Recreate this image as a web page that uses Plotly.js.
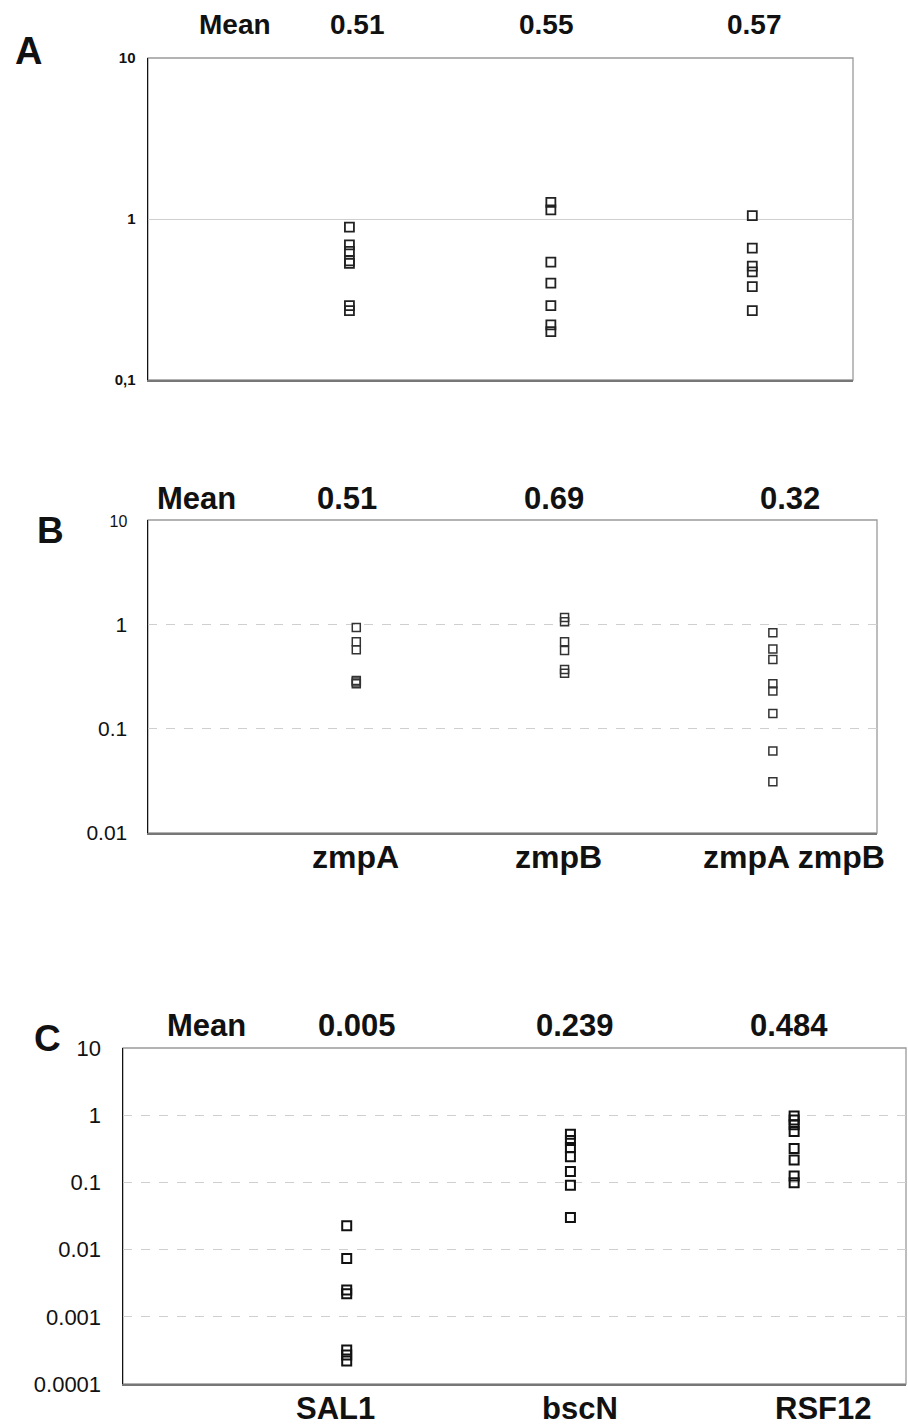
<!DOCTYPE html>
<html>
<head>
<meta charset="utf-8">
<script src="https://cdn.plot.ly/plotly-3.0.1.min.js"></script>
<style>html,body{margin:0;padding:0;background:#fff;}#chart{width:908px;height:1426px;}</style>
</head>
<body>
<div id="chart"></div>
<script>
// ---- data ----
const catsA = ['A1', 'A2', 'A3'];
const catsB = ['zmpA', 'zmpB', 'zmpA zmpB'];
const catsC = ['SAL1', 'bscN', 'RSF12'];

const meansA = ['0.51', '0.55', '0.57'];
const meansB = ['0.51', '0.69', '0.32'];
const meansC = ['0.005', '0.239', '0.484'];

const panelA_1 = [0.89, 0.69, 0.63, 0.55, 0.53, 0.29, 0.27];
const panelA_2 = [1.27, 1.14, 0.54, 0.40, 0.29, 0.22, 0.20];
const panelA_3 = [1.05, 0.66, 0.51, 0.47, 0.38, 0.27];

const panelB_zmpA = [0.93, 0.68, 0.57, 0.29, 0.28, 0.27];
const panelB_zmpB = [1.16, 1.06, 0.68, 0.56, 0.37, 0.34];
const panelB_zmpAB = [0.83, 0.58, 0.46, 0.27, 0.23, 0.14, 0.061, 0.031];

const panelC_SAL1 = [0.0226, 0.0074, 0.0025, 0.0022, 0.00032, 0.00027, 0.00022];
const panelC_bscN = [0.52, 0.42, 0.33, 0.24, 0.145, 0.091, 0.030];
const panelC_RSF12 = [0.97, 0.85, 0.72, 0.57, 0.32, 0.215, 0.125, 0.099];

const tickValsA = [0.1, 1, 10];
const tickTextA = ['0,1', '1', '10'];
const tickValsB = [0.01, 0.1, 1, 10];
const tickTextB = ['0.01', '0.1', '1', '<span style="font-size:16px">10</span>'];
const tickValsC = [0.0001, 0.001, 0.01, 0.1, 1, 10];
const tickTextC = ['0.0001', '0.001', '0.01', '0.1', '1', '10'];

// ---- layout helpers ----
const W = 908, H = 1426;
const px = p => p / W;
const py = p => 1 - p / H;
const FONT = 'Liberation Sans, Arial, Helvetica, sans-serif';

function pts(cat, vals, xa, ya, size, lw, col) {
  return {
    type: 'scatter', mode: 'markers',
    x: vals.map(() => cat), y: vals,
    xaxis: xa, yaxis: ya,
    marker: {symbol: 'square-open', size: size, color: col, line: {width: lw, color: col}},
    hoverinfo: 'skip', showlegend: false, cliponaxis: false
  };
}

const traces = [
  pts(catsA[0], panelA_1, 'x', 'y', 9, 1.8, '#222'),
  pts(catsA[1], panelA_2, 'x', 'y', 9, 1.8, '#222'),
  pts(catsA[2], panelA_3, 'x', 'y', 9, 1.8, '#222'),
  pts(catsB[0], panelB_zmpA, 'x2', 'y2', 8, 1.5, '#333'),
  pts(catsB[1], panelB_zmpB, 'x2', 'y2', 8, 1.5, '#333'),
  pts(catsB[2], panelB_zmpAB, 'x2', 'y2', 8, 1.5, '#333'),
  pts(catsC[0], panelC_SAL1, 'x3', 'y3', 9, 2, '#111'),
  pts(catsC[1], panelC_bscN, 'x3', 'y3', 9, 2, '#111'),
  pts(catsC[2], panelC_RSF12, 'x3', 'y3', 9, 2, '#111')
];

function xax(dom, cats, anchor) {
  return {
    domain: dom, anchor: anchor, type: 'category', categoryorder: 'array', categoryarray: cats,
    range: [-1, 2.5], showticklabels: false, ticks: '', showgrid: false, zeroline: false,
    showline: true, linecolor: '#777', linewidth: 1.5, fixedrange: true
  };
}
function yax(dom, rng, tv, tt, fsize, bold, standoff, dash, anchor) {
  return {
    domain: dom, anchor: anchor, type: 'log', range: rng,
    tickmode: 'array', tickvals: tv, ticktext: tt, ticks: '',
    tickfont: {family: FONT, size: fsize, color: '#111', weight: bold ? 'bold' : 'normal'},
    ticklabelstandoff: standoff,
    showgrid: true, gridcolor: '#cfcfcf', gridwidth: 1, griddash: dash,
    zeroline: false, showline: true, linecolor: '#111', linewidth: 1.5, fixedrange: true
  };
}

const annotations = [];
function txt(text, x, y, xref, size, xshift) {
  annotations.push({
    text: text, x: x, y: y, xref: xref, yref: 'paper', xanchor: 'center', yanchor: 'middle',
    xshift: xshift || 0, showarrow: false,
    font: {family: FONT, size: size, color: '#111', weight: 'bold'}
  });
}
// panel letters
txt('A', px(28), py(51), 'paper', 38);
txt('B', px(50), py(530), 'paper', 37);
txt('C', px(47), py(1038), 'paper', 37);
// "Mean" headers
txt('Mean', px(235), py(24), 'paper', 28);
txt('Mean', px(196), py(499), 'paper', 31);
txt('Mean', px(206), py(1025), 'paper', 31);
// mean values
const shA = [8, -4, 2], shB = [-9, -11, 17], shC = [10, 5, -5];
meansA.forEach((m, i) => txt(m, catsA[i], py(24), 'x', 28, shA[i]));
meansB.forEach((m, i) => txt(m, catsB[i], py(499), 'x2', 31, shB[i]));
meansC.forEach((m, i) => txt(m, catsC[i], py(1025), 'x3', 31, shC[i]));
// category labels
const clB = [-1, -6, 21], clC = [-11, 10, 29];
catsB.forEach((c, i) => txt(c, catsB[i], py(857), 'x2', 32, clB[i]));
catsC.forEach((c, i) => txt(c, catsC[i], py(1408), 'x3', 31, clC[i]));

function frame(xr, yr) {
  return {type: 'rect', xref: xr + ' domain', yref: yr + ' domain', x0: 0, x1: 1, y0: 0, y1: 1,
          line: {color: '#9a9a9a', width: 1.3}, layer: 'below'};
}

const layout = {
  width: W, height: H, margin: {l: 0, r: 0, t: 0, b: 0},
  paper_bgcolor: '#fff', plot_bgcolor: '#fff', showlegend: false,
  font: {family: FONT, color: '#111'},
  xaxis: xax([px(148), px(853)], catsA, 'y'),
  yaxis: yax([py(380), py(58)], [-1, 1], tickValsA, tickTextA, 15, true, 8, 'solid', 'x'),
  xaxis2: xax([px(148), px(877)], catsB, 'y2'),
  yaxis2: yax([py(833), py(520)], [-2, 1], tickValsB, tickTextB, 21, false, 15, 'dash', 'x2'),
  xaxis3: xax([px(123), px(906)], catsC, 'y3'),
  yaxis3: yax([py(1384), py(1048)], [-4, 1], tickValsC, tickTextC, 22, false, 16, 'dash', 'x3'),
  shapes: [frame('x', 'y'), frame('x2', 'y2'), frame('x3', 'y3')],
  annotations: annotations
};

Plotly.newPlot('chart', traces, layout, {displayModeBar: false, staticPlot: true});
</script>
</body>
</html>
